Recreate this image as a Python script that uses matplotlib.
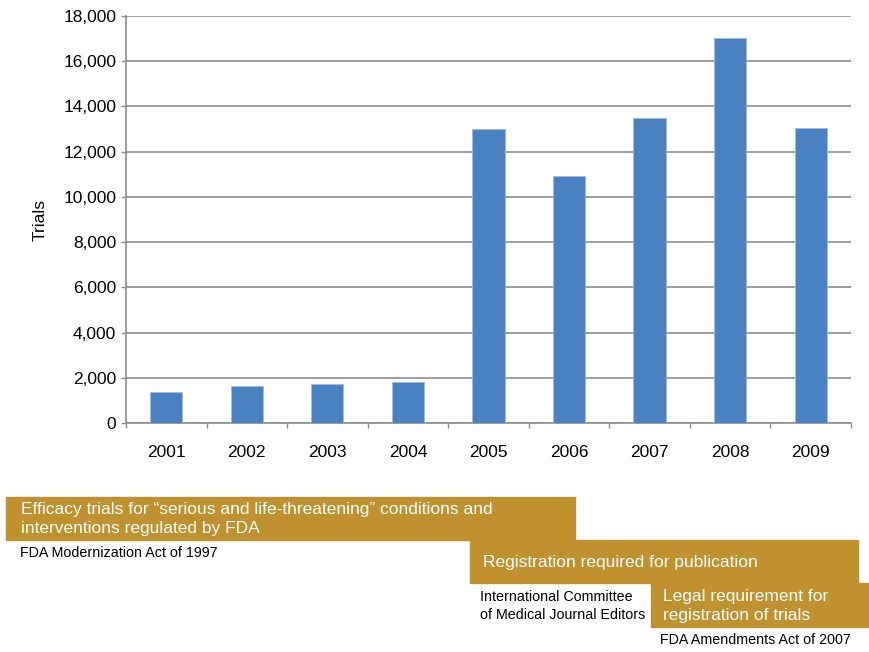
import matplotlib.pyplot as plt
from matplotlib.patches import Rectangle
from matplotlib.ticker import FuncFormatter, MultipleLocator

plt.rcParams['font.family'] = ['Liberation Sans', 'DejaVu Sans']

# Data
years = ['2001', '2002', '2003', '2004', '2005', '2006', '2007', '2008', '2009']
trials = [1390, 1630, 1710, 1820, 12990, 10920, 13490, 17040, 13050]

# Timeline annotations under the chart
box_texts = ['Efficacy trials for \u201cserious and life-threatening\u201d conditions and\ninterventions regulated by FDA',
             'Registration required for publication',
             'Legal requirement for\nregistration of trials']
source_texts = ['FDA Modernization Act of 1997',
                'International Committee\nof Medical Journal Editors',
                'FDA Amendments Act of 2007']

W, H = 870, 652
fig = plt.figure(figsize=(W / 100, H / 100), dpi=100)
ax = fig.add_axes([126 / W, 1 - 423 / H, 725 / W, 407 / H])

bar_color = '#4a81c0'
grid_color = '#8c8c8c'
gold = '#c0922f'

x = range(len(years))
ax.bar(x, trials, width=0.4, color=bar_color, edgecolor='#9fbbe0', linewidth=0.6, zorder=3)

ax.set_xlim(-0.5, len(years) - 0.5)
ax.set_ylim(0, 18000)
ax.yaxis.set_major_locator(MultipleLocator(2000))
ax.yaxis.set_major_formatter(FuncFormatter(lambda v, p: f'{int(v):,}'))
ax.grid(axis='y', color=grid_color, linewidth=1.2, zorder=0)

ax.set_xticks(list(x))
ax.set_xticklabels(years)
ax.set_xticks([i - 0.5 for i in range(len(years) + 1)], minor=True)
ax.tick_params(axis='x', which='major', length=0, pad=16, labelsize=12.5)
ax.tick_params(axis='x', which='minor', length=3.6, color=grid_color, width=1)
ax.tick_params(axis='y', length=3.6, color=grid_color, width=1, pad=3.5, labelsize=12.5)

for side in ['top', 'right']:
    ax.spines[side].set_visible(False)
ax.spines['left'].set_color(grid_color)
ax.spines['bottom'].set_color(grid_color)
ax.spines['left'].set_linewidth(1.2)
ax.spines['bottom'].set_linewidth(1.2)

fig.text(40 / W, 1 - 220 / H, 'Trials', rotation=90, ha='center', va='center', fontsize=12.5)


def fx(px):
    return px / W


def fy(py):
    return 1 - py / H


# boxes in pixel coords: left, top, right, bottom
boxes = [(6, 497, 575, 540), (470, 540, 858, 583), (651, 583, 870, 627)]
box_text_pos = [(21, 519), (483, 562), (663, 606)]
for (l, t, r, b), (tx, ty), txt in zip(boxes, box_text_pos, box_texts):
    fig.patches.append(Rectangle((fx(l), fy(b)), fx(r - l), (b - t) / H,
                                 transform=fig.transFigure, color=gold, zorder=1))
    fig.text(fx(tx), fy(ty), txt, color='white', fontsize=12.5, ha='left', va='center',
             linespacing=1.4, zorder=2)

src_pos = [(20, 553), (480, 606), (660, 640)]
for (tx, ty), txt in zip(src_pos, source_texts):
    fig.text(fx(tx), fy(ty), txt, color='black', fontsize=10.3, ha='left', va='center',
             linespacing=1.3)

fig.savefig('out.png', dpi=100)
